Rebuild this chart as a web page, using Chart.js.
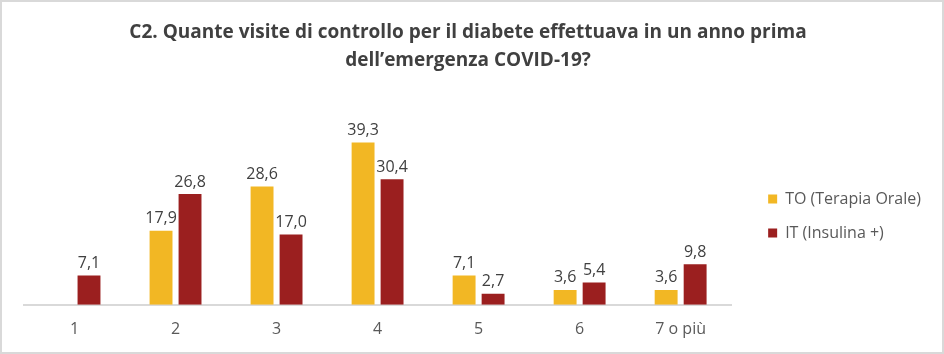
<!DOCTYPE html>
<html>
<head>
<meta charset="utf-8">
<script src="https://cdn.jsdelivr.net/npm/chart.js@4/dist/chart.umd.min.js"></script>
<style>
  html, body { margin: 0; padding: 0; background: #fff; }
  #wrap { width: 944px; height: 354px; box-sizing: border-box; border: 2px solid #d9d9d9; background: #fff; }
  #wrap canvas { display: block; }
</style>
</head>
<body>
<div id="wrap"><canvas id="chart1" width="940" height="350"></canvas></div>
<script>
const categories = ['1', '2', '3', '4', '5', '6', '7 o più'];
const seriesNames = ['TO (Terapia Orale)', 'IT (Insulina +)'];
const toValues = [null, 17.9, 28.6, 39.3, 7.1, 3.6, 3.6];
const itValues = [7.1, 26.8, 17.0, 30.4, 2.7, 5.4, 9.8];
const titleLines = ['C2. Quante visite di controllo per il diabete effettuava in un anno prima', 'dell\u2019emergenza COVID-19?'];

const fontFamily = '"Open Sans", sans-serif';

// etichette sopra le barre, con la virgola decimale
const barLabels = {
    id: 'barLabels',
    afterDatasetsDraw(chart) {
        const ctx = chart.ctx;
        ctx.save();
        ctx.font = '16px ' + fontFamily;
        ctx.fillStyle = '#404040';
        ctx.textAlign = 'center';
        ctx.textBaseline = 'bottom';
        chart.data.datasets.forEach((ds, i) => {
            const meta = chart.getDatasetMeta(i);
            meta.data.forEach((bar, j) => {
                const v = ds.data[j];
                if (v === null || v === undefined) return;
                ctx.fillText(v.toFixed(1).replace('.', ','), bar.x, bar.y - 4);
            });
        });
        ctx.restore();
    }
};

// sposta la legenda un po' a destra e in basso, come nell'originale
const legendShift = {
    id: 'legendShift',
    afterLayout(chart) {
        const lg = chart.legend;
        lg.left += 19;
        lg.right += 19;
        lg.top += 42;
        lg.bottom += 42;
    }
};

const data = {
    labels: categories,
    datasets: [{
        label: seriesNames[0],
        data: toValues,
        backgroundColor: 'rgb(242, 183, 36)',
        categoryPercentage: 0.574,
        barPercentage: 0.79
    }, {
        label: seriesNames[1],
        data: itValues,
        backgroundColor: 'rgb(155, 31, 31)',
        categoryPercentage: 0.574,
        barPercentage: 0.79
    }]
};

const config = {
    type: 'bar',
    data: data,
    plugins: [barLabels, legendShift],
    options: {
        responsive: false,
        animation: false,
        layout: { padding: { left: 22, right: 30, top: 0, bottom: 6 } },
        plugins: {
            title: {
                display: true,
                text: titleLines,
                color: '#404040',
                font: { family: fontFamily, size: 19, weight: 'bold', lineHeight: 1.47 },
                padding: { top: 17, bottom: 44 }
            },
            legend: {
                position: 'right',
                labels: {
                    color: '#595959',
                    font: { family: fontFamily, size: 16 },
                    boxWidth: 9,
                    boxHeight: 9,
                    padding: 18
                }
            },
            tooltip: { enabled: false }
        },
        scales: {
            x: {
                grid: { display: false },
                border: { display: true, color: '#d9d9d9', width: 2 },
                ticks: { color: '#595959', font: { family: fontFamily, size: 16 }, padding: 7 }
            },
            y: {
                display: false,
                min: 0,
                max: 45
            }
        }
    }
};

new Chart(document.getElementById('chart1'), config);
</script>
</body>
</html>
